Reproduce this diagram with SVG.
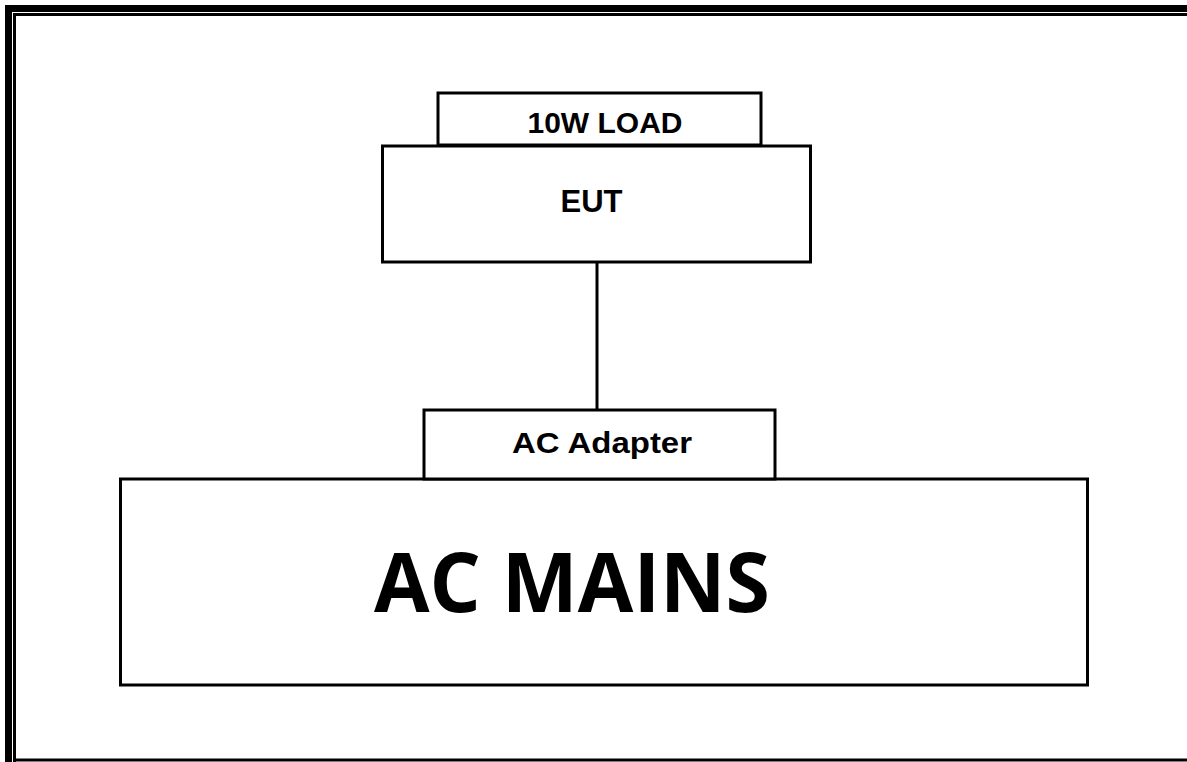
<svg xmlns="http://www.w3.org/2000/svg" width="1187" height="762" viewBox="0 0 1187 762">
<style>
.box{fill:#fff;stroke:#000;stroke-width:3}
.lbl{font-family:"Liberation Sans",Arial,sans-serif;font-weight:bold;fill:#000;text-anchor:middle}
.big{font-family:"Open Sans","Noto Sans",sans-serif;font-weight:bold;fill:#000}
</style>
<rect width="1187" height="762" fill="#fff"/>
<g id="frame">
<path d="M8.5 762 V8.5 H1187" fill="none" stroke="#000" stroke-width="7"/>
<path d="M14.5 762 V14.5 H1187 M14.5 760 H1187" fill="none" stroke="#000" stroke-width="3"/>
</g>
<g id="connectors">
<line x1="597" y1="262" x2="597" y2="410" stroke="#000" stroke-width="3"/>
</g>
<g id="load">
<rect class="box" x="438" y="93" width="323" height="52"/>
<text class="lbl" x="605" y="133" font-size="29" textLength="155" lengthAdjust="spacingAndGlyphs">10W LOAD</text>
</g>
<g id="eut">
<rect class="box" x="382.5" y="146" width="428" height="116"/>
<text class="lbl" x="591.5" y="212" font-size="31">EUT</text>
</g>
<g id="mains">
<rect class="box" x="120.5" y="479" width="967" height="206"/>
<text class="big" x="374" y="612" font-size="83" textLength="396" lengthAdjust="spacingAndGlyphs">AC MAINS</text>
</g>
<g id="adapter">
<rect class="box" x="424" y="410" width="351" height="69"/>
<text class="lbl" x="602" y="453" font-size="30" textLength="180" lengthAdjust="spacingAndGlyphs">AC Adapter</text>
</g>
</svg>
